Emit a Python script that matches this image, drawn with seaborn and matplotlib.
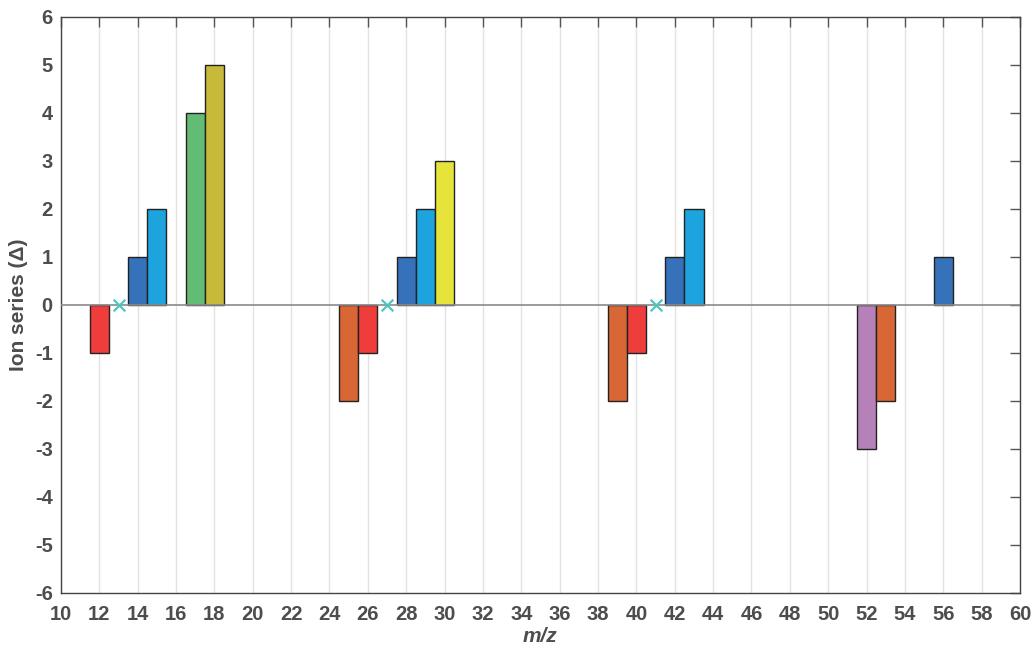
import numpy as np
import pandas as pd
import matplotlib
matplotlib.use('Agg')
import matplotlib.pyplot as plt
import seaborn as sns

# bar data: m/z and ion series delta
mz = [12, 14, 15, 17, 18, 25, 26, 28, 29, 30, 39, 40, 42, 43, 52, 53, 56]
delta = [-1, 1, 2, 4, 5, -2, -1, 1, 2, 3, -2, -1, 1, 2, -3, -2, 1]

# cross markers on the zero line
cross_mz = [13, 27, 41]
cross_y = [0, 0, 0]

# colour per delta value
delta_colors = {
    -3: '#B680B8',
    -2: '#D96635',
    -1: '#EE3D3A',
    1: '#3672B9',
    2: '#1DA3DD',
    3: '#E6E33A',
    4: '#63BC73',
    5: '#C7BA3B',
}

x_ticks = list(range(10, 61, 2))
y_ticks = list(range(-6, 7))

sns.set_style('white')
plt.rcParams['font.family'] = ['Liberation Sans', 'DejaVu Sans']
plt.rcParams['font.weight'] = 'bold'
plt.rcParams['axes.unicode_minus'] = False

df = pd.DataFrame({'mz': mz, 'delta': delta})

fig = plt.figure(figsize=(10.35, 6.48), dpi=100)
ax = fig.add_axes([0.0589, 0.0849, 0.9266, 0.8889])

ax.set_axisbelow(True)
ax.xaxis.grid(True, color='#e3e3e3', lw=1)
ax.yaxis.grid(False)

sns.barplot(data=df, x='mz', y='delta', hue='delta', palette=delta_colors,
            native_scale=True, width=1, dodge=False, legend=False,
            edgecolor='#222222', linewidth=1, saturation=1, ax=ax)

ax.axhline(0, color='#8a8a8a', lw=1.2, zorder=3)
sns.scatterplot(x=cross_mz, y=cross_y, marker='x', s=70, color='#4CC5C0',
                linewidth=1.6, ax=ax, zorder=4)

ax.set_xlim(10, 60)
ax.set_ylim(-6, 6)
ax.set_xticks(x_ticks)
ax.set_yticks(y_ticks)
ax.tick_params(direction='in', length=7, width=1, color='#555555',
               labelcolor='#4d4d4d', labelsize=14.5, top=True, right=True)
ax.tick_params(axis='x', pad=9)
ax.tick_params(axis='y', pad=6)
for s in ax.spines.values():
    s.set_color('#444444')
    s.set_linewidth(1)

ax.set_xlabel('m/z', fontsize=15, fontweight='bold', fontstyle='italic',
              color='#4d4d4d', labelpad=2)
ax.set_ylabel('Ion series (\u0394)', fontsize=15, fontweight='bold',
              color='#4d4d4d', labelpad=5)

fig.savefig('out.png', dpi=100)
